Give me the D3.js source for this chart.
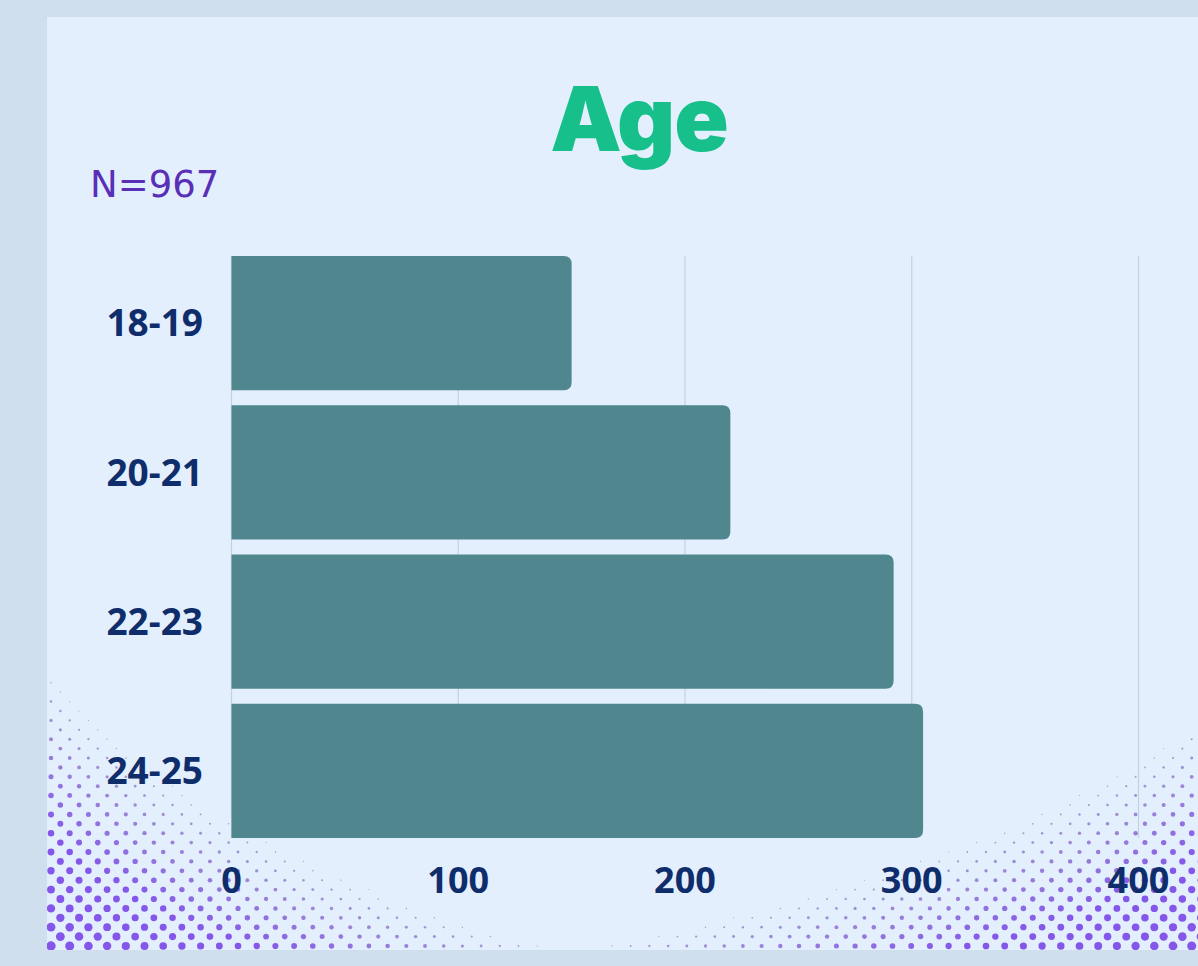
<!DOCTYPE html>
<html>
<head>
<meta charset="utf-8">
<script src="https://cdn.jsdelivr.net/npm/d3@7"></script>
<style>
  body { margin: 0; background: #cfdfee; }
  svg { display: block; }
  .tick-label { font-family: "Open Sans", "Noto Sans", sans-serif; font-weight: 700; fill: #0f2c6b; }
</style>
</head>
<body>
<div id="visualization"></div>
<script>
var ageGroups = ["18-19", "20-21", "22-23", "24-25"];
var counts = [150, 220, 292, 305];
var xTicks = [0, 100, 200, 300, 400];
var sampleLabel = "N=967";
var titleText = "Age";

render();

function render() {
  var width = 1198,
      height = 966,
      panel = {x: 47, y: 17, w: 1151, h: 933},
      plot = {left: 231.5, right: 1138.5, top: 256, bottom: 838};

  var data = ageGroups.map(function(g, i) { return {group: g, value: counts[i]}; });

  var svg = d3.select("#visualization").append("svg")
              .attr("width", width)
              .attr("height", height);

  svg.append("clipPath").attr("id", "panel-clip")
     .append("rect")
     .attr("x", panel.x).attr("y", panel.y)
     .attr("width", panel.w).attr("height", panel.h);

  svg.append("rect")
     .attr("x", panel.x).attr("y", panel.y)
     .attr("width", panel.w).attr("height", panel.h)
     .attr("fill", "#e3effd");

  // halftone corner decoration
  var deco = svg.append("g").attr("clip-path", "url(#panel-clip)");
  var purple = d3.interpolateRgb("#aaa4cc", "#8456ea");
  function halftone(cx, cy, ax, ay, p, rMax) {
    var dots = [];
    for (var row = 0; row < 70; row++) {
      var y = panel.y + panel.h - 4 - row * 9.4;
      var off = (row % 2) * 9.35;
      for (var x = panel.x + 4 + off; x < panel.x + panel.w + 10; x += 18.7) {
        var d = Math.pow(Math.abs(x - cx) / ax, p) + Math.pow(Math.abs(y - cy) / ay, p);
        var t = 1 - d;
        if (t > 0 && rMax * Math.pow(t, 0.55) > 0.5) dots.push({x: x, y: y, t: t});
      }
    }
    deco.selectAll(null)
        .data(dots)
        .enter().append("circle")
        .attr("cx", d => d.x)
        .attr("cy", d => d.y)
        .attr("r", d => rMax * Math.pow(d.t, 0.55))
        .attr("fill", d => purple(Math.min(1, d.t * 2.2)));
  }
  halftone(44, 955, 560, 300, 0.75, 5);
  halftone(1212, 958, 720, 260, 0.75, 5);

  var x = d3.scaleLinear()
            .domain([0, 400])
            .range([plot.left, plot.right]);

  var y = d3.scaleBand()
            .domain(ageGroups)
            .range([plot.top, plot.bottom])
            .paddingInner(0.1)
            .paddingOuter(0);

  // gridlines
  svg.append("g")
     .selectAll("line")
     .data(xTicks)
     .enter().append("line")
     .attr("x1", d => x(d)).attr("x2", d => x(d))
     .attr("y1", plot.top).attr("y2", plot.bottom)
     .attr("stroke", "#c6d1de")
     .attr("stroke-width", 1.2);

  // bars, rounded on the right end only
  function barPath(d) {
    var x0 = x(0), x1 = x(d.value), y0 = y(d.group), h = y.bandwidth(), r = 8;
    return "M" + x0 + "," + y0 +
           "H" + (x1 - r) +
           "Q" + x1 + "," + y0 + " " + x1 + "," + (y0 + r) +
           "V" + (y0 + h - r) +
           "Q" + x1 + "," + (y0 + h) + " " + (x1 - r) + "," + (y0 + h) +
           "H" + x0 + "Z";
  }

  svg.selectAll(".bar")
     .data(data)
     .enter().append("path")
     .attr("class", "bar")
     .attr("d", barPath)
     .attr("fill", "#50878f");

  // y labels
  svg.append("g")
     .selectAll("text")
     .data(ageGroups)
     .enter().append("text")
     .attr("class", "tick-label")
     .attr("x", 203)
     .attr("y", d => y(d) + y.bandwidth() / 2)
     .attr("dy", "0.36em")
     .attr("text-anchor", "end")
     .attr("font-size", 37)
     .text(d => d);

  // x tick labels
  svg.append("g")
     .selectAll("text")
     .data(xTicks)
     .enter().append("text")
     .attr("class", "tick-label")
     .attr("x", d => x(d))
     .attr("y", 893)
     .attr("text-anchor", "middle")
     .attr("font-size", 36)
     .text(d => d);

  // Title
  svg.append("text")
     .attr("x", 639)
     .attr("y", 151)
     .attr("text-anchor", "middle")
     .attr("font-family", "Inter, sans-serif")
     .attr("font-weight", 900)
     .attr("font-size", 90)
     .attr("letter-spacing", -1)
     .attr("fill", "#17bf8a")
     .text(titleText);

  svg.append("text")
     .attr("x", 90)
     .attr("y", 197)
     .attr("font-family", "'DejaVu Sans', sans-serif")
     .attr("font-size", 37)
     .attr("fill", "#5a2fb8")
     .text(sampleLabel);
}
</script>
</body>
</html>
